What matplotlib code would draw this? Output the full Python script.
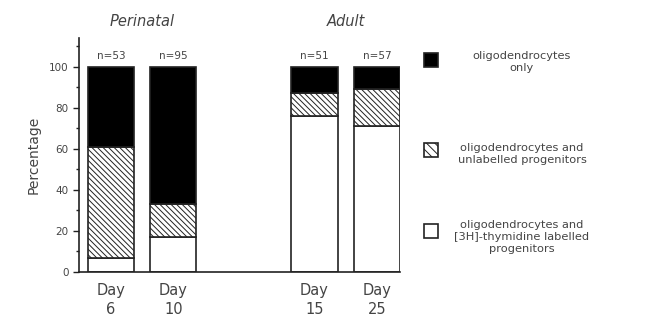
import matplotlib
matplotlib.use('Agg')
import matplotlib.pyplot as plt
from matplotlib.patches import Rectangle
import numpy as np

# data
days = ['Day\n6', 'Day\n10', 'Day\n15', 'Day\n25']
n_cells = ['n=53', 'n=95', 'n=51', 'n=57']
labelled = np.array([7, 17, 76, 71])
unlabelled = np.array([54, 16, 11, 18])
only = 100 - labelled - unlabelled
groups = ['Perinatal', 'Adult']
legend_labels = ['oligodendrocytes\nonly',
                 'oligodendrocytes and\nunlabelled progenitors',
                 'oligodendrocytes and\n[3H]-thymidine labelled\nprogenitors']

INK = '#222222'
TXT = '#444444'
HATCH = '\\\\\\\\\\\\'
plt.rcParams['font.family'] = 'DejaVu Sans'
plt.rcParams['hatch.linewidth'] = 0.7
plt.rcParams['hatch.color'] = '#333333'

fig = plt.figure(figsize=(6.5, 3.25), dpi=100)
ax = fig.add_axes([0.1215, 0.163, 0.494, 0.72])

x = np.array([0, 1, 3.26, 4.26])
w = 0.74
ax.bar(x, labelled, w, color='white', edgecolor=INK, linewidth=1.2)
ax.bar(x, unlabelled, w, bottom=labelled, color='white', edgecolor=INK,
       linewidth=1.2, hatch=HATCH)
ax.bar(x, only, w, bottom=labelled + unlabelled, color='black', edgecolor=INK,
       linewidth=1.2)

for xi, n in zip(x, n_cells):
    ax.text(xi, 103, n, ha='center', va='bottom', fontsize=7.5, color=TXT)

ax.text(0.5, 122, groups[0], ha='center', va='center', fontsize=10.5,
        style='italic', color=TXT)
ax.text(3.76, 122, groups[1], ha='center', va='center', fontsize=10.5,
        style='italic', color=TXT)

ax.set_xlim(-0.51, 4.63)
ax.set_ylim(0, 114)
ax.set_xticks(x)
ax.set_xticklabels(days, fontsize=10.5, color=TXT, linespacing=1.3)
ax.tick_params(axis='x', length=0, pad=8)
ax.set_yticks(np.arange(0, 101, 20))
ax.set_yticks(np.arange(0, 111, 10), minor=True)
ax.tick_params(axis='y', which='major', length=4, width=1, color=INK,
               labelsize=7.5, labelcolor=TXT)
ax.tick_params(axis='y', which='minor', length=2.5, width=1, color=INK)
ax.set_ylabel('Percentage', fontsize=10, color=TXT, labelpad=6)

for s in ['top', 'right']:
    ax.spines[s].set_visible(False)
for s in ['left', 'bottom']:
    ax.spines[s].set_color(INK)
    ax.spines[s].set_linewidth(1.2)

# legend drawn by hand to mimic the original layout
styles = [dict(facecolor='black', hatch=None),
          dict(facecolor='white', hatch='\\\\\\\\'),
          dict(facecolor='white', hatch=None)]
sq_y = [60, 150, 231]
txt_y = [62, 154, 237]
for st, sy, ty, lab in zip(styles, sq_y, txt_y, legend_labels):
    fig.add_artist(Rectangle((424 / 650, 1 - (sy + 7) / 325), 14 / 650, 14 / 325,
                             transform=fig.transFigure, edgecolor=INK,
                             linewidth=1.2, **st))
    fig.text(522 / 650, 1 - ty / 325, lab, ha='center', va='center',
             fontsize=8.2, color=TXT, linespacing=1.25)

fig.savefig('out.png', dpi=100)
